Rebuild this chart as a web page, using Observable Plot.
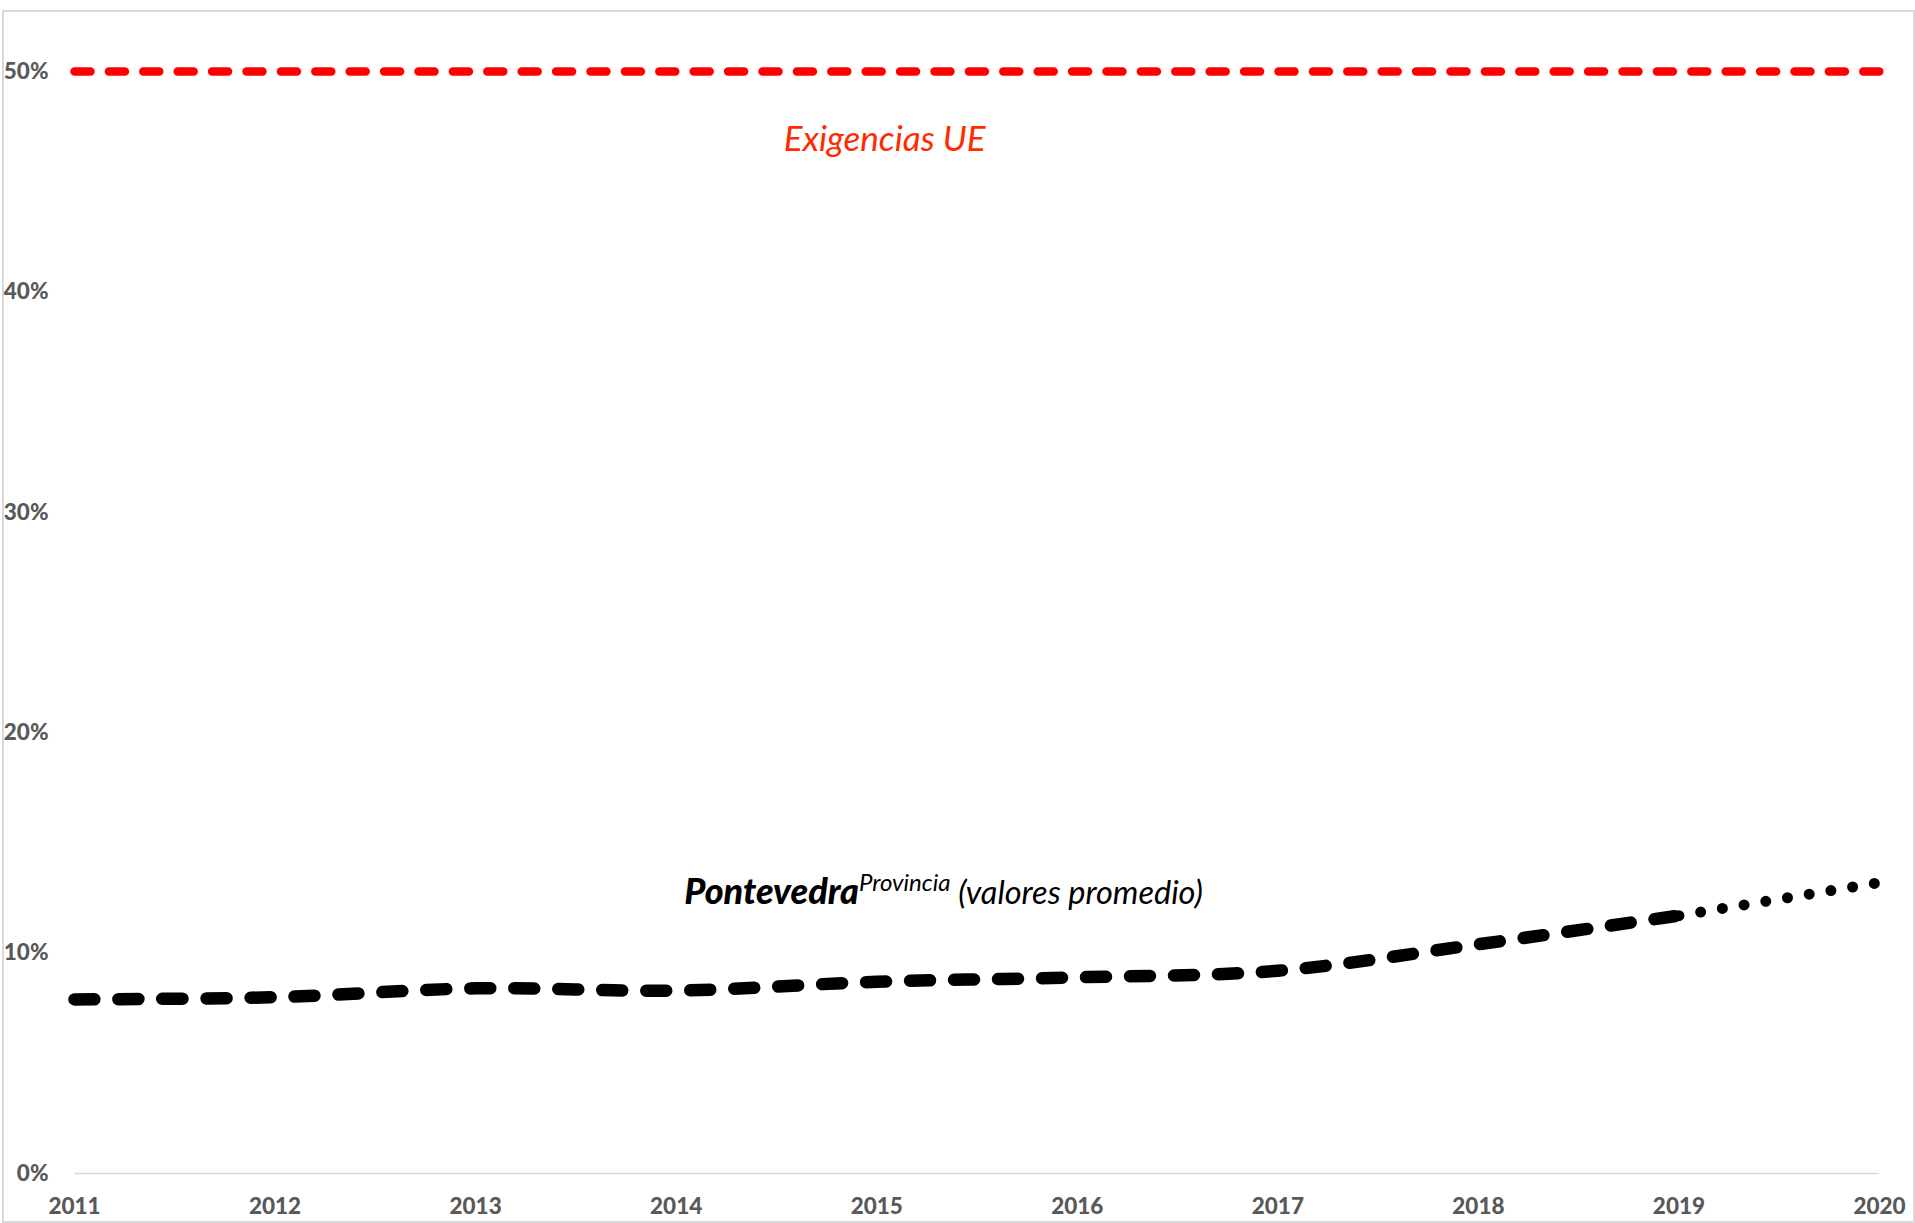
<!DOCTYPE html>
<html>
<head>
<meta charset="utf-8">
<script src="https://cdn.jsdelivr.net/npm/d3@7"></script>
<script src="https://cdn.jsdelivr.net/npm/@observablehq/plot@0.6"></script>
<style>
  html, body { margin: 0; padding: 0; background: #fff; }
  #wrap { position: relative; width: 1915px; height: 1223px; overflow: hidden; }
  #border { position: absolute; left: 2px; top: 10px; width: 1909px; height: 1209px; border: 2px solid #d9d9d9; }
  #chart { position: absolute; left: 0; top: 0; }
</style>
</head>
<body>
<div id="wrap"><div id="border"></div><div id="chart"></div></div>
<script>
// ---- data ----
const years = [2011, 2012, 2013, 2014, 2015, 2016, 2017, 2018, 2019, 2020];
const pontevedra = [0.079, 0.080, 0.084, 0.083, 0.087, 0.089, 0.092, 0.104, 0.117, 0.132];
const euTarget = [0.5, 0.5, 0.5, 0.5, 0.5, 0.5, 0.5, 0.5, 0.5, 0.5];
const yTicks = [0, 0.1, 0.2, 0.3, 0.4, 0.5];
const labelEU = "Exigencias UE";
const labelPV = "Pontevedra";
const labelPVsup = "Provincia";
const labelPVrest = " (valores promedio)";
const labelEUpos = {x: 2015.04, y: 0.469};
const labelPVpos = {x: 2014.04, y: 0.127};

const rows = years.map((y, i) => ({year: y, pv: pontevedra[i], eu: euTarget[i], i}));
const dashedRows = rows.filter(d => d.i <= 8);
const dottedRows = rows.filter(d => d.i >= 8);

const FONT = "Lato, 'Open Sans', sans-serif";

const chart = Plot.plot({
  width: 1915,
  height: 1223,
  marginLeft: 74,
  marginRight: 36,
  marginTop: 71,
  marginBottom: 50,
  style: {fontFamily: FONT, background: "transparent", overflow: "visible"},
  x: {domain: [2011, 2020], label: null},
  y: {domain: [0, 0.5], label: null},
  marks: [
    Plot.ruleY([0], {stroke: "#d9d9d9", strokeWidth: 1.5}),
    Plot.axisY(yTicks, {
      tickSize: 0, tickPadding: 26, tickFormat: d => Math.round(d * 100) + "%",
      fontSize: 22.5, fontWeight: 900, fill: "#595959", label: null
    }),
    Plot.axisX(years, {
      tickSize: 0, tickPadding: 25, tickFormat: d => String(d),
      fontSize: 22.5, fontWeight: 900, fill: "#595959", label: null
    }),
    Plot.line(rows, {
      x: "year", y: "eu", stroke: "#ff0000", strokeWidth: 8.5,
      strokeDasharray: "16,18.4", strokeLinecap: "round"
    }),
    Plot.line(dashedRows, {
      x: "year", y: "pv", stroke: "#000", strokeWidth: 12.5, curve: "catmull-rom",
      strokeDasharray: "20,24", strokeLinecap: "round"
    }),
    Plot.line(dottedRows, {
      x: "year", y: "pv", stroke: "#000", strokeWidth: 11, curve: "catmull-rom",
      strokeDasharray: "0,22", strokeLinecap: "round"
    }),
    Plot.text([labelEUpos], {
      x: "x", y: "y", text: () => labelEU, fill: "#ff2a00",
      fontSize: 35, fontStyle: "italic", textAnchor: "middle"
    }),
    Plot.text([labelPVpos], {
      x: "x", y: "y", text: () => labelPV, fill: "#000",
      fontSize: 31, fontStyle: "italic", textAnchor: "start", className: "pv-label"
    })
  ]
});

document.getElementById("chart").appendChild(chart);

// rich text for the Pontevedra label (bold name, superscript, italic rest)
chart.querySelectorAll(".pv-label text").forEach(t => {
  const ns = "http://www.w3.org/2000/svg";
  t.textContent = "";
  const a = document.createElementNS(ns, "tspan");
  a.setAttribute("font-weight", "900");
  a.setAttribute("font-size", "36");
  a.textContent = labelPV;
  const b = document.createElementNS(ns, "tspan");
  b.setAttribute("font-size", "24");
  b.setAttribute("dy", "-13");
  b.textContent = labelPVsup;
  const c = document.createElementNS(ns, "tspan");
  c.setAttribute("dy", "13");
  c.setAttribute("font-size", "32.5");
  c.textContent = labelPVrest;
  t.append(a, b, c);
});
</script>
</body>
</html>
